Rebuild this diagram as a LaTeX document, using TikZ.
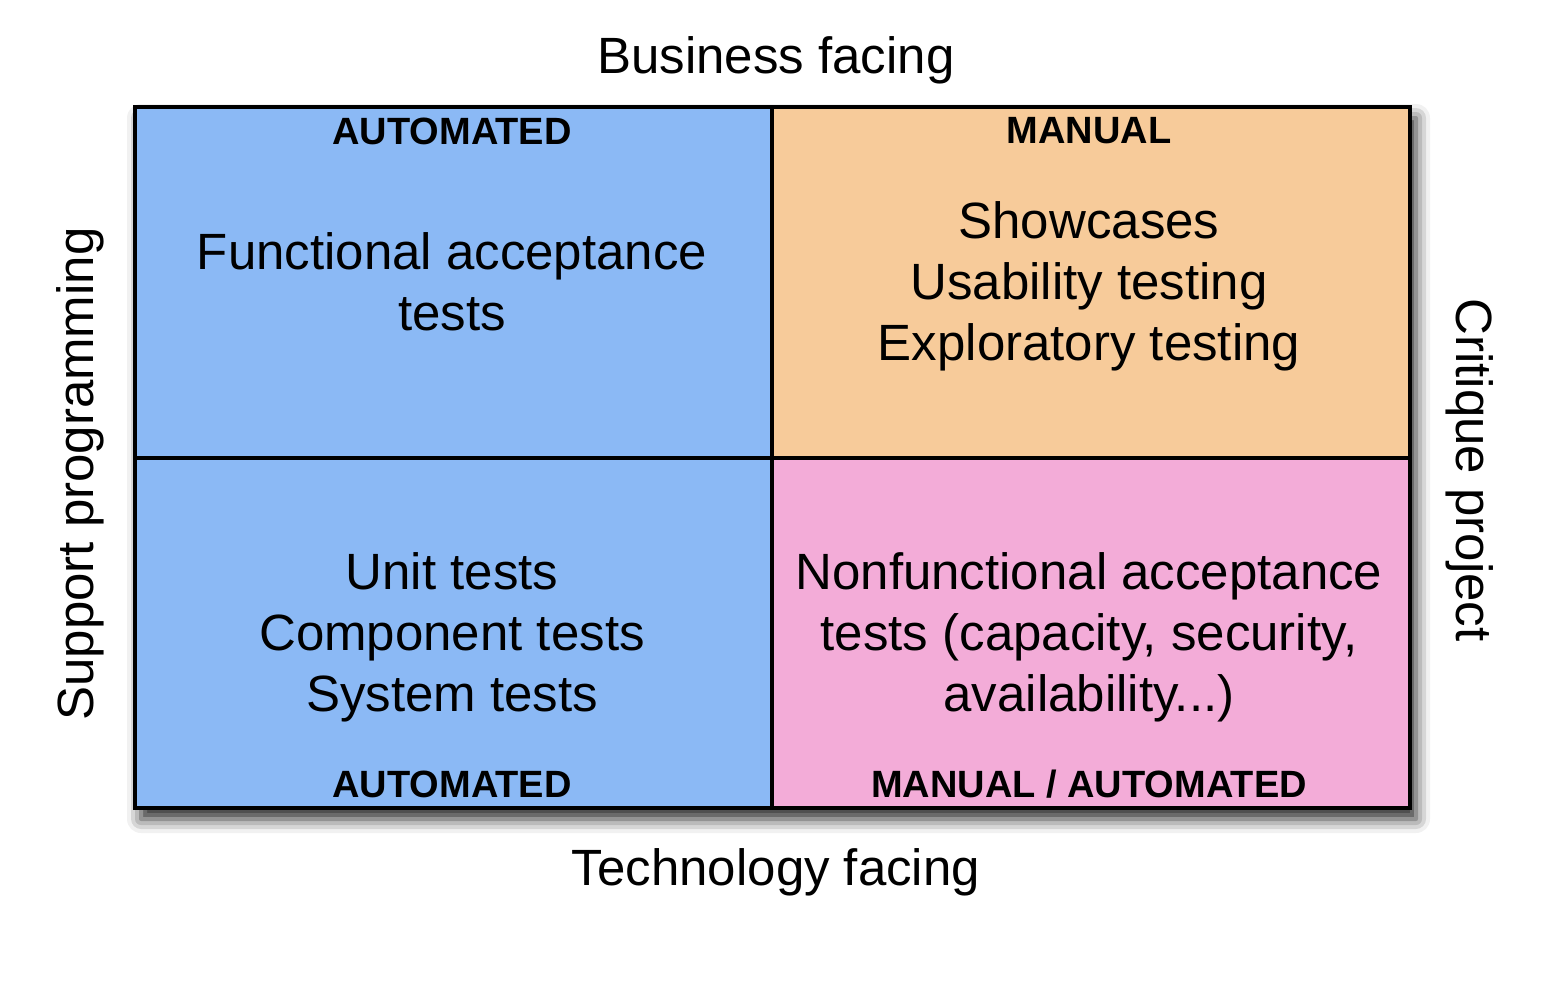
\documentclass[tikz,border=0pt]{standalone}
\usepackage{fontspec}
\setmainfont{Liberation Sans}
\usetikzlibrary{shadows.blur}
\definecolor{qblue}{HTML}{8BB9F5}
\definecolor{qorange}{HTML}{F7CB9A}
\definecolor{qpink}{HTML}{F3ACD8}
\tikzset{
  quad/.style={draw=black, line width=3.2pt},
  body/.style={font=\fontsize{51}{61}\selectfont, align=center, inner sep=0pt},
  tag/.style={font=\fontsize{38}{40}\selectfont\bfseries, inner sep=0pt},
  axis/.style={font=\fontsize{51}{61}\selectfont, inner sep=0pt},
}
\begin{document}
\begin{tikzpicture}[x=1pt,y=-1pt]
\useasboundingbox (0,0) rectangle (1566,1006);
% quadrant frame with its drop shadow
\path[blur shadow={shadow xshift=6pt, shadow yshift=-11pt, shadow blur radius=14pt, shadow opacity=85}]
  (135,107) rectangle (1410,808);
\fill[qblue]   (135,107) rectangle (772,808);
\fill[qorange] (772,107) rectangle (1410,458);
\fill[qpink]   (772,458) rectangle (1410,808);
\draw[quad] (135,107) rectangle (1410,808);
\draw[quad] (772,107) -- (772,808);
\draw[quad] (135,458) -- (1410,458);

% axis labels
\node[axis] (bf) at (776,60) {Business facing};
\node[axis] (tf) at (776,872) {Technology facing};
\node[axis, rotate=90] (sp) at (80,474) {Support programming};
\node[axis, rotate=-90] (cp) at (1470,470) {Critique project};

% quadrant tags
\node[tag] (t1) at (452,131) {AUTOMATED};
\node[tag] (t2) at (1089,131) {MANUAL};
\node[tag] (t3) at (452,784) {AUTOMATED};
\node[tag] (t4) at (1089,784) {MANUAL / AUTOMATED};

% quadrant contents
\node[body] (q1) at (452,282) {Functional acceptance\\tests};
\node[body] (q2) at (1089,286) {Showcases\\Usability testing\\Exploratory testing};
\node[body] (q3) at (452,637) {Unit tests\\Component tests\\System tests};
\node[body] (q4) at (1089,637) {Nonfunctional acceptance\\tests (capacity, security,\\availability...)};
\end{tikzpicture}
\end{document}
